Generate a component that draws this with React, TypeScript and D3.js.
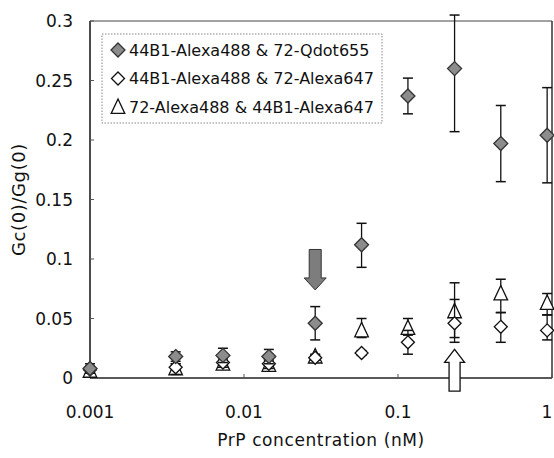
import * as d3 from 'd3'

// concentrations (nM)
const conc = [0.001, 0.0036, 0.0073, 0.0145, 0.029, 0.058, 0.116, 0.233, 0.465, 0.93]

// 44B1-Alexa488 & 72-Qdot655
const qdotVal = [0.008, 0.018, 0.019, 0.018, 0.046, 0.112, 0.237, 0.26, 0.197, 0.204]
const qdotLo = [0.004, 0.014, 0.013, 0.012, 0.032, 0.093, 0.222, 0.207, 0.165, 0.164]
const qdotHi = [0.012, 0.022, 0.025, 0.024, 0.06, 0.13, 0.252, 0.305, 0.229, 0.244]

// 44B1-Alexa488 & 72-Alexa647
const a647Val = [0.007, 0.009, 0.013, 0.012, 0.017, 0.021, 0.03, 0.046, 0.043, 0.04]
const a647Lo = [0.004, 0.003, 0.009, 0.008, 0.015, 0.019, 0.02, 0.034, 0.03, 0.032]
const a647Hi = [0.01, 0.012, 0.017, 0.016, 0.019, 0.023, 0.04, 0.066, 0.055, 0.053]

// 72-Alexa488 & 44B1-Alexa647
const revVal = [0.006, 0.008, 0.012, 0.011, 0.018, 0.04, 0.042, 0.056, 0.071, 0.063]
const revLo = [0.003, 0.004, 0.008, 0.007, 0.016, 0.034, 0.036, 0.03, 0.055, 0.053]
const revHi = [0.009, 0.012, 0.016, 0.015, 0.02, 0.05, 0.05, 0.08, 0.083, 0.071]

const legendLabels = [
  '44B1-Alexa488 & 72-Qdot655',
  '44B1-Alexa488 & 72-Alexa647',
  '72-Alexa488 & 44B1-Alexa647',
]

const xTicks = [0.001, 0.01, 0.1, 1]
const xTickLabels = ['0.001', '0.01', '0.1', '1']
const yTicks = [0, 0.05, 0.1, 0.15, 0.2, 0.25, 0.3]
const yTickLabels = ['0', '0.05', '0.1', '0.15', '0.2', '0.25', '0.3']

// arrows: [x conc, tail value, tip value]
const downArrow = [0.029, 0.108, 0.074]
const upArrow = [0.233, -0.011, 0.024]

const FONT = '"DejaVu Sans", sans-serif'
const W = 554
const H = 458
const margin = { top: 21, right: 2, bottom: 80, left: 90 }

const diamond = (r: number) => `M0,${-r}L${r},0L0,${r}L${-r},0Z`
const triangle = (r: number) => `M0,${-r}L${r * 0.85},${r * 0.8}L${-r * 0.85},${r * 0.8}Z`

export default function App() {
  const x = d3.scaleLog().domain([0.001, 1]).range([margin.left, W - margin.right])
  const y = d3.scaleLinear().domain([0, 0.3]).range([H - margin.bottom, margin.top])

  const series = [
    { val: qdotVal, lo: qdotLo, hi: qdotHi, shape: diamond(7), fill: '#8c8c8c', stroke: '#333' },
    { val: a647Val, lo: a647Lo, hi: a647Hi, shape: diamond(6.5), fill: '#fff', stroke: '#111' },
    { val: revVal, lo: revLo, hi: revHi, shape: triangle(8), fill: '#fff', stroke: '#111' },
  ]
  const drawOrder = [2, 1, 0]

  const x0 = margin.left
  const x1 = W - margin.right
  const yb = y(0)
  const yt = y(0.3)

  const arrowPath = (spec: number[], shaft: number, head: number, headLen: number) => {
    const cx = x(spec[0])
    const tail = y(spec[1])
    const tip = y(spec[2])
    const dir = tip > tail ? 1 : -1
    const hb = tip - dir * headLen
    return `M${cx - shaft / 2},${tail}L${cx + shaft / 2},${tail}L${cx + shaft / 2},${hb}L${cx + head / 2},${hb}L${cx},${tip}L${cx - head / 2},${hb}L${cx - shaft / 2},${hb}Z`
  }

  return (
    <svg width={W} height={H} style={{ position: 'absolute', left: 0, top: 0, background: '#fff' }} fontFamily={FONT}>
      {/* frame */}
      <line x1={x0} x2={x1} y1={yt} y2={yt} stroke="#444" strokeWidth={1} />
      <line x1={x1} x2={x1} y1={yt} y2={yb} stroke="#333" strokeWidth={1.5} />
      <line x1={x0} x2={x1} y1={yb} y2={yb} stroke="#222" strokeWidth={1.5} />
      <line x1={x0} x2={x0} y1={yt} y2={yb} stroke="#111" strokeWidth={1.5} />

      {yTicks.map((t, i) => (
        <g key={'y' + i}>
          <line x1={x0} x2={x0 + 4} y1={y(t)} y2={y(t)} stroke="#555" />
          <text x={73} y={y(t)} dy="0.36em" textAnchor="end" fontSize={17} fill="#111">{yTickLabels[i]}</text>
        </g>
      ))}
      {xTicks.map((t, i) => (
        <g key={'x' + i}>
          <line x1={x(t)} x2={x(t)} y1={yb} y2={yb - 4} stroke="#555" />
          <text x={Math.min(x(t), W - 7)} y={418} textAnchor="middle" fontSize={17} fill="#111">{xTickLabels[i]}</text>
        </g>
      ))}

      <text x={(x0 + x1) / 2} y={446} textAnchor="middle" fontSize={17} fill="#111" letterSpacing={0.6}>PrP concentration (nM)</text>
      <text transform={`translate(25,${(yt + yb) / 2}) rotate(-90)`} textAnchor="middle" fontSize={18} fill="#111" letterSpacing={0.6}>Gc(0)/Gg(0)</text>

      {/* legend */}
      <rect x={102} y={34} width={280} height={89} fill="#fff" stroke="#888" strokeDasharray="1.5,1.5" />
      {legendLabels.map((l, i) => (
        <g key={'l' + i} transform={`translate(0,${50 + i * 28.5})`}>
          <path d={series[i].shape} transform="translate(118,0)" fill={series[i].fill} stroke={series[i].stroke} strokeWidth={1.3} />
          <text x={129} y={0} dy="0.36em" fontSize={16} fill="#111">{l}</text>
        </g>
      ))}

      {/* arrows */}
      <path d={arrowPath(downArrow, 12, 22, 12)} fill="#7d7d7d" stroke="#333" strokeWidth={1} />
      <path d={arrowPath(upArrow, 11, 20, 13)} fill="#fff" stroke="#111" strokeWidth={1.3} />

      {/* error bars + markers */}
      {drawOrder.map(si => {
        const s = series[si]
        return (
          <g key={'s' + si}>
            {conc.map((c, i) => {
              const cx = x(c)
              return (
                <g key={i}>
                  <line x1={cx} x2={cx} y1={y(s.lo[i])} y2={y(s.hi[i])} stroke="#111" strokeWidth={1.3} />
                  <line x1={cx - 5} x2={cx + 5} y1={y(s.lo[i])} y2={y(s.lo[i])} stroke="#111" strokeWidth={1.5} />
                  <line x1={cx - 5} x2={cx + 5} y1={y(s.hi[i])} y2={y(s.hi[i])} stroke="#111" strokeWidth={1.5} />
                  <path d={s.shape} transform={`translate(${cx},${y(s.val[i])})`} fill={s.fill} stroke={s.stroke} strokeWidth={1.3} />
                </g>
              )
            })}
          </g>
        )
      })}
    </svg>
  )
}
